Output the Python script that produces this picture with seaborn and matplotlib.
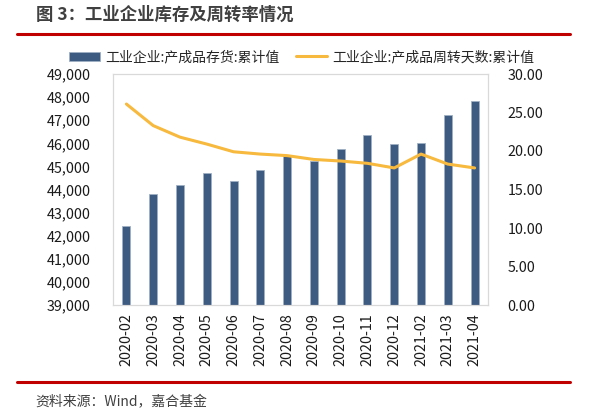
import numpy as np
import pandas as pd
import matplotlib
matplotlib.use("Agg")
import matplotlib.pyplot as plt
import seaborn as sns
from matplotlib.lines import Line2D
from matplotlib.patches import Patch

# 数据
months = ["2020-02", "2020-03", "2020-04", "2020-05", "2020-06", "2020-07", "2020-08",
          "2020-09", "2020-10", "2020-11", "2020-12", "2021-02", "2021-03", "2021-04"]
inventory = [42420, 43790, 44190, 44730, 44380, 44860, 45450,
             45250, 45750, 46380, 45980, 46020, 47240, 47850]
turnover_days = [26.1, 23.3, 21.8, 20.9, 19.9, 19.6, 19.4,
                 18.9, 18.7, 18.4, 17.8, 19.6, 18.3, 17.8]

bar_label = "工业企业:产成品存货:累计值"
line_label = "工业企业:产成品周转天数:累计值"

bar_color = "#3D5A80"
line_color = "#F7B93E"
red = "#C00000"
frame = "#D9D9D9"

sns.set_theme(style="white")
plt.rcParams['font.family'] = ['Noto Sans CJK SC', 'DejaVu Sans']

df = pd.DataFrame({"month": months, "inventory": inventory, "days": turnover_days})
df["pos"] = np.arange(len(df))

fig = plt.figure(figsize=(5.92, 4.19), dpi=100)
ax = fig.add_axes([113 / 592, 1 - 305 / 419, 375 / 592, 231 / 419])

sns.barplot(data=df, x="month", y="inventory", color=bar_color, width=0.3,
            saturation=1, edgecolor="#9FB0C6", linewidth=0.6, ax=ax)
ax.set_ylim(39000, 49000)
ax.set_yticks(np.arange(39000, 49001, 1000))
ax.set_yticklabels([f"{v:,}" for v in range(39000, 49001, 1000)], fontsize=10.3, color="#1a1a1a")
ax.set_xlim(-0.5, len(months) - 0.5)
ax.set_xticks(np.arange(len(months)))
ax.set_xticklabels(months, rotation=90, fontsize=10.3, color="#1a1a1a")
ax.set_xlabel("")
ax.set_ylabel("")
ax.tick_params(axis="x", length=0, pad=6)
ax.tick_params(axis="y", length=0, pad=16)
ax.set_xticks(np.arange(-0.5, len(months), 1), minor=True)
ax.tick_params(axis="x", which="minor", length=5, color=frame, width=0.8, direction="out")
for s in ax.spines.values():
    s.set_color(frame)
    s.set_linewidth(0.8)

ax2 = ax.twinx()
sns.lineplot(data=df, x="pos", y="days", color=line_color, linewidth=2.2, ax=ax2)
ax2.set_ylim(0, 30)
ax2.set_yticks(np.arange(0, 30.1, 5))
ax2.set_yticklabels([f"{v:.2f}" for v in np.arange(0, 30.1, 5)], fontsize=10.3, color="#1a1a1a")
ax2.set_ylabel("")
ax2.set_xlabel("")
ax2.tick_params(axis="y", length=0, pad=14)
for s in ax2.spines.values():
    s.set_color(frame)
    s.set_linewidth(0.8)
ax2.set_xlim(-0.5, len(months) - 0.5)

handles = [Patch(facecolor=bar_color, edgecolor="#9FB0C6", linewidth=0.6),
           Line2D([0], [0], color=line_color, linewidth=2.2)]
fig.legend(handles, [bar_label, line_label], loc="center", bbox_to_anchor=(302 / 592, 1 - 57 / 419),
           ncol=2, frameon=False, fontsize=10, handlelength=2.2, handleheight=0.6,
           columnspacing=1.2, handletextpad=0.4)

# 标题和来源
fig.text(36 / 592, 1 - 15 / 419, "图 3：工业企业库存及周转率情况", fontsize=12.5,
         fontweight="bold", color="#404040", va="center", ha="left")
fig.add_artist(Line2D([17 / 592, 570 / 592], [1 - 33.7 / 419] * 2, color=red, linewidth=2.2))
fig.add_artist(Line2D([17 / 592, 570 / 592], [1 - 382 / 419] * 2, color=red, linewidth=2.2))
fig.text(35 / 592, 1 - 402 / 419, "资料来源：Wind，嘉合基金", fontsize=10,
         color="#404040", va="center", ha="left")

fig.savefig("out.png", dpi=100)
